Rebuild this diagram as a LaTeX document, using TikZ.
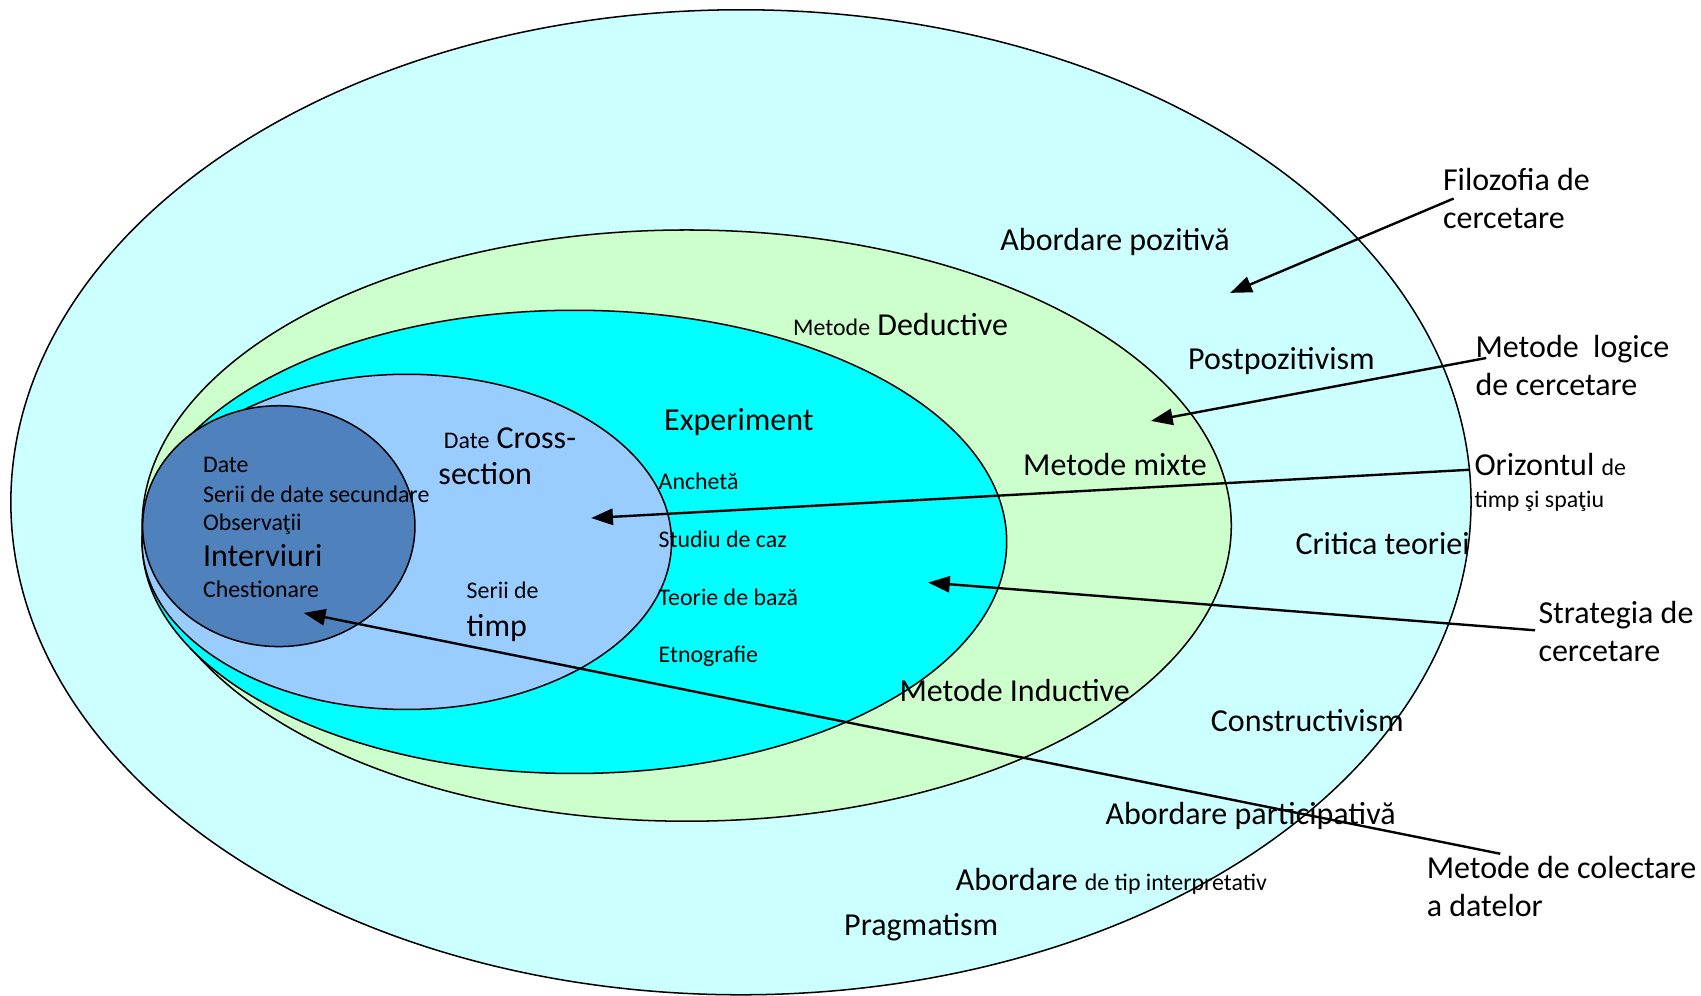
\documentclass[tikz,border=0pt]{standalone}
\usepackage{fontspec}
\setmainfont{Carlito}
\usetikzlibrary{arrows.meta}
\definecolor{outerc}{HTML}{CCFFFF}
\definecolor{greenc}{HTML}{CCFFCC}
\definecolor{cyanc}{HTML}{00FFFF}
\definecolor{lblue}{HTML}{99CCFF}
\definecolor{dblue}{HTML}{4F81BD}
\newcommand{\sm}{\fontsize{22}{27}\selectfont}
\begin{document}
\begin{tikzpicture}[x=1pt,y=-1pt,
  ell/.style={draw=black,line width=1.4pt},
  big/.style={font=\fontsize{29.5}{35}\selectfont, inner sep=0pt, anchor=base west},
  small/.style={font=\fontsize{22}{27}\selectfont, inner sep=0pt, anchor=base west},
  arr/.style={line width=2.2pt,-{Triangle[length=20pt,width=15pt]}}]
\useasboundingbox (0,0) rectangle (1568,918);
% ellipses
\path[ell,fill=outerc] (683,463) ellipse [x radius=673, y radius=454];
\path[ell,fill=greenc] (633,484.5) ellipse [x radius=502, y radius=272.5];
\path[ell,fill=cyanc] (529.5,499.5) ellipse [x radius=398.5, y radius=213.5];
\path[ell,fill=lblue] (375,499.5) ellipse [x radius=244, y radius=154.5];
\path[ell,fill=dblue] (257,485) ellipse [x radius=125.5, y radius=111];
% inner labels
\node[big] (apoz) at (922,231) {Abordare pozitivă};
\node[big] (mded) at (731,309) {{\sm Metode} Deductive};
\node[big] (postp) at (1095,341) {Postpozitivism};
\node[big] (exp) at (612,397) {Experiment};
\node[big] (mmix) at (943,438) {Metode mixte};
\node[big] (dcross) at (409,413) {{\sm Date} Cross-};
\node[big] (sect) at (404,447) {section};
\node[small] (date) at (187,436) {Date};
\node[small] (serii) at (187,463) {Serii de date secundare};
\node[small] (obs) at (187,489) {Observaţii};
\node[big] (interv) at (187,522) {Interviuri};
\node[small] (chest) at (187,551) {Chestionare};
\node[small] (anch) at (607,451) {Anchetă};
\node[small] (stud) at (607,505) {Studiu de caz};
\node[small] (teor) at (607,558) {Teorie de bază};
\node[small] (etno) at (607,611) {Etnografie};
\node[small] (seriide) at (430,552) {Serii de};
\node[big] (timp) at (430,587) {timp};
\node[big] (mind) at (829,647) {Metode Inductive};
\node[big] (crit) at (1194,511) {Critica teoriei};
\node[big] (constr) at (1116,674) {Constructivism};
\node[big] (apart) at (1019,760) {Abordare participativă};
\node[big] (aint) at (881,821) {Abordare {\sm de tip interpretativ}};
\node[big] (pragm) at (778,862) {Pragmatism};
% outer labels
\node[big] (filo1) at (1330,176) {Filozofia de};
\node[big] (filo2) at (1330,211) {cercetare};
\node[big] (log1) at (1360,330) {Metode\ \ logice};
\node[big] (log2) at (1360,365) {de cercetare};
\node[big] (oriz1) at (1359,438) {Orizontul {\sm de}};
\node[small] (oriz2) at (1359,468) {timp şi spaţiu};
\node[big] (strat1) at (1418,575) {Strategia de};
\node[big] (strat2) at (1418,610) {cercetare};
\node[big] (col1) at (1315,810) {Metode de colectare};
\node[big] (col2) at (1315,845) {a datelor};
% arrows
\coordinate (s1) at (1340,183); \coordinate (t1) at (1134,270);
\coordinate (s2) at (1370,330); \coordinate (t2) at (1061,388);
\coordinate (s3) at (1355,433); \coordinate (t3) at (545,477.5);
\coordinate (s4) at (1415,581); \coordinate (t4) at (855.5,537);
\coordinate (s5) at (1383,787); \coordinate (t5) at (280,565);
\draw[arr] (s1) -- (t1);
\draw[arr] (s2) -- (t2);
\draw[arr] (s3) -- (t3);
\draw[arr] (s4) -- (t4);
\draw[arr] (s5) -- (t5);
\end{tikzpicture}
\end{document}
